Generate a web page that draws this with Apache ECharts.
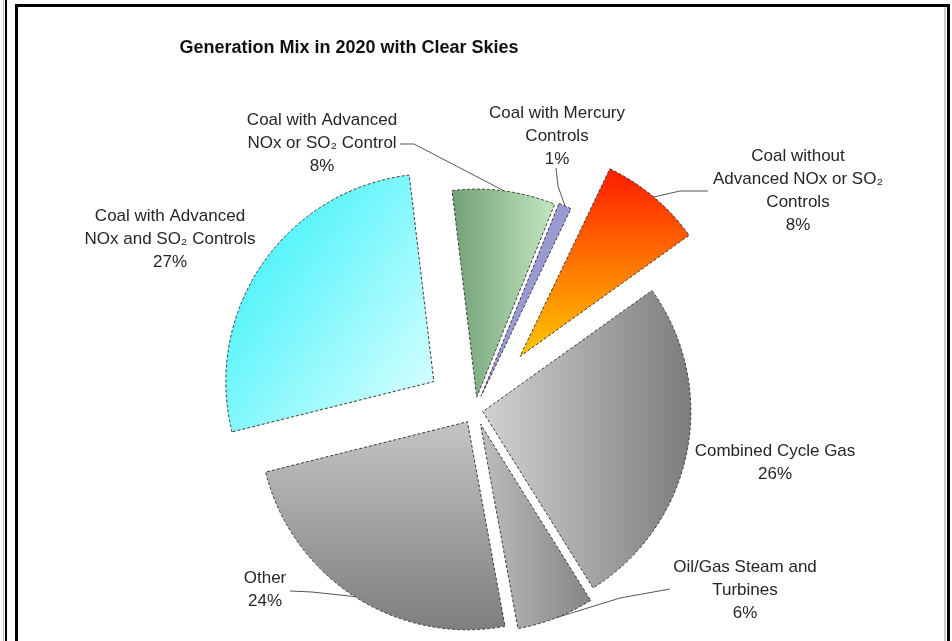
<!DOCTYPE html>
<html>
<head>
<meta charset="utf-8">
<script src="https://cdn.jsdelivr.net/npm/echarts@6/dist/echarts.min.js"></script>
<style>
    html, body {margin: 0; padding: 0; background: #fff;}
    #main {position: absolute; left: 0; top: 0; width: 952px; height: 641px;}
    .rule {position: absolute; pointer-events: none;}
</style>
</head>
<body>
<div id="main"></div>
<!-- frame round the chart -->
<div class="rule" style="left:3px;top:0;width:1px;height:641px;background:#bbb"></div>
<div class="rule" style="left:5px;top:0;width:2px;height:641px;background:#000"></div>
<div class="rule" style="left:15px;top:4px;width:929px;height:700px;border:3px solid #000;border-bottom:none"></div>
<div class="rule" style="left:944px;top:7px;width:2px;height:641px;background:#ccc"></div>
<script>
    var labels = [
        'Coal with Advanced\nNOx and SO₂ Controls',
        'Coal with Advanced\nNOx or SO₂ Control',
        'Coal with Mercury\nControls',
        'Coal without\nAdvanced NOx or SO₂\nControls',
        'Combined Cycle Gas',
        'Oil/Gas Steam and\nTurbines',
        'Other'
    ];
    var shares = [27, 8, 1, 8, 26, 6, 24];

    // how far each slice is pulled out of the pie, px
    var explode = [50, 13, 15, 70, 8, 15, 14];
    var hasLeader = [false, true, true, true, false, true, true];
    var labelAt = [[170, 239], [322, 143], [557, 136], [798, 191], [775, 463], [745, 590], [265, 590]];
    var elbowAt = [null, [414, 144], [558, 186], [680, 191], null, [620, 598], [312, 592]];
    var endAt = [null, [400, 144], [556, 168], [708, 191], null, [670, 589], [290, 591]];

    var fills = [
        {type: 'linear', x: 0, y: 0.2, x2: 1, y2: 0.8, colorStops: [{offset: 0, color: '#38F2FA'}, {offset: 1, color: '#D2FEFF'}]},
        {type: 'linear', x: 0, y: 0, x2: 1, y2: 0, colorStops: [{offset: 0, color: '#72A076'}, {offset: 1, color: '#C2E8C0'}]},
        '#9A9AD2',
        {type: 'linear', x: 0, y: 0, x2: 0, y2: 1, colorStops: [{offset: 0, color: '#FF1A00'}, {offset: 0.5, color: '#FF7400'}, {offset: 1, color: '#FFC800'}]},
        {type: 'linear', x: 0, y: 0, x2: 1, y2: 0, colorStops: [{offset: 0, color: '#D2D2D2'}, {offset: 1, color: '#7C7C7C'}]},
        {type: 'linear', x: 0, y: 0, x2: 1, y2: 0, colorStops: [{offset: 0, color: '#BDBDBD'}, {offset: 1, color: '#858585'}]},
        {type: 'linear', x: 0, y: 0, x2: 0, y2: 1, colorStops: [{offset: 0, color: '#C4C4C4'}, {offset: 1, color: '#7E7E7E'}]}
    ];

    var cx = 475, cy = 410, R = 208, startAngle = 194;
    var total = shares.reduce(function (a, b) { return a + b; }, 0);

    var series = [];
    var cum = 0;
    shares.forEach(function (v, k) {
        var mid = (startAngle - (cum + v / 2) / total * 360) * Math.PI / 180;
        cum += v;
        series.push({
            type: 'pie',
            silent: true,
            radius: R,
            center: [cx + Math.cos(mid) * explode[k], cy - Math.sin(mid) * explode[k]],
            startAngle: startAngle,
            clockwise: true,
            avoidLabelOverlap: false,
            label: {
                position: 'outside',
                color: '#262626',
                fontFamily: "'Liberation Sans', 'DejaVu Sans', Arial",
                fontSize: 17,
                lineHeight: 23,
                formatter: function (p) {
                    return p.name + '\n' + Math.round(p.percent) + '%';
                }
            },
            labelLine: {lineStyle: {color: '#555', width: 1}},
            labelLayout: function (p) {
                var pts = p.labelLinePoints;
                var out = {x: labelAt[k][0], y: labelAt[k][1], align: 'center', verticalAlign: 'middle'};
                if (hasLeader[k] && pts) {
                    out.labelLinePoints = [pts[0], elbowAt[k], endAt[k]];
                }
                return out;
            },
            data: shares.map(function (s, i) {
                var mine = i === k;
                return {
                    value: s,
                    name: labels[i],
                    itemStyle: mine
                        ? {color: fills[i], borderColor: '#3a3a3a', borderWidth: 1, borderType: [3, 2]}
                        : {color: 'rgba(0,0,0,0)', borderWidth: 0},
                    label: {show: mine},
                    labelLine: {show: mine && hasLeader[i]}
                };
            })
        });
    });

    var chart = echarts.init(document.getElementById('main'));
    chart.setOption({
        animation: false,
        title: {
            text: 'Generation Mix in 2020 with Clear Skies',
            left: 344, top: 34, textAlign: 'center',
            textStyle: {fontFamily: "'Liberation Sans', Arial", fontSize: 18, fontWeight: 'bold', color: '#111'}
        },
        series: series
    });
</script>
</body>
</html>
